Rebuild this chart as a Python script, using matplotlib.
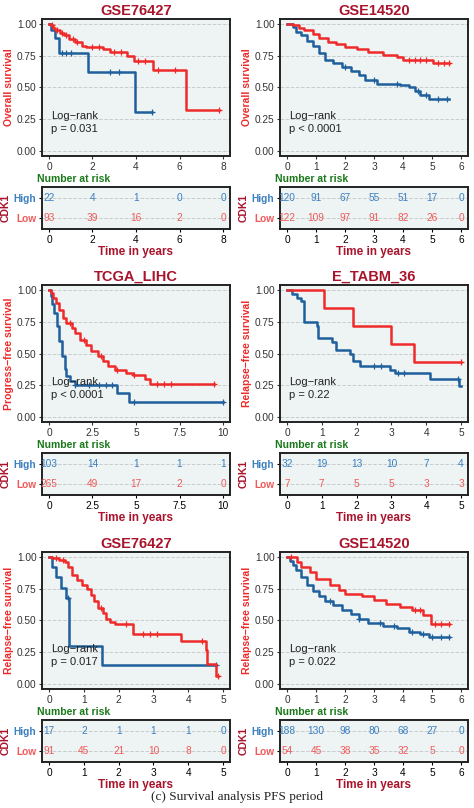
import numpy as np
import matplotlib.pyplot as plt

RED = "#ee2a2a"
BLUE = "#1f5f9c"
TRED = "#f05a5a"
TBLUE = "#3a7fc0"
TITLE = "#a8142c"
BG = "#eef4f4"

titles = ["GSE76427", "GSE14520", "TCGA_LIHC", "E_TABM_36", "GSE76427", "GSE14520"]
ylabels = ["Overall survival", "Overall survival", "Progress\u2212free survival",
           "Relapse\u2212free survival", "Relapse\u2212free survival", "Relapse\u2212free survival"]
pvals = ["p = 0.031", "p < 0.0001", "p < 0.0001", "p = 0.22", "p = 0.017", "p = 0.022"]
xticks = [[0, 2, 4, 6, 8], [0, 1, 2, 3, 4, 5, 6], [0, 2.5, 5, 7.5, 10],
          [0, 1, 2, 3, 4, 5], [0, 1, 2, 3, 4, 5], [0, 1, 2, 3, 4, 5, 6]]
xticklabels = [None, None, ["0", "2.5", "5", "7.5", "10"], None, None, None]

# step curves: (times, survival), last time = end of follow-up
high_t = [
    [0, 0.1, 0.3, 0.45, 1.8, 3.95, 4.75],
    [0, 0.2, 0.3, 0.5, 0.7, 0.9, 1.1, 1.3, 1.6, 1.9, 2.2, 2.5, 2.7, 3.1, 3.9, 4.2, 4.4, 4.6, 4.9, 5.6],
    [0, 0.1, 0.2, 0.3, 0.45, 0.6, 0.75, 0.9, 1.0, 1.2, 1.5, 3.9, 4.6, 10.0],
    [0, 0.15, 0.3, 0.4, 0.5, 0.85, 0.9, 1.3, 1.4, 1.8, 1.9, 2.1, 2.95, 3.1, 4.1, 4.95, 5.0],
    [0, 0.1, 0.2, 0.35, 0.5, 0.57, 1.52, 4.8],
    [0, 0.1, 0.2, 0.3, 0.5, 0.7, 0.9, 1.1, 1.3, 1.6, 1.9, 2.2, 2.5, 2.8, 3.3, 3.8, 4.2, 4.6, 4.9, 5.6],
]
high_s = [
    [1, 0.95, 0.89, 0.77, 0.62, 0.31, 0.31],
    [1, 0.98, 0.94, 0.91, 0.87, 0.83, 0.77, 0.72, 0.69, 0.66, 0.63, 0.60, 0.56, 0.53, 0.52, 0.50, 0.47, 0.44, 0.41, 0.41],
    [1, 0.95, 0.89, 0.82, 0.72, 0.60, 0.48, 0.38, 0.32, 0.28, 0.25, 0.19, 0.12, 0.12],
    [1, 0.97, 0.94, 0.91, 0.75, 0.72, 0.625, 0.59, 0.53, 0.50, 0.44, 0.40, 0.37, 0.35, 0.30, 0.24, 0.24],
    [1, 0.92, 0.84, 0.76, 0.68, 0.30, 0.15, 0.15],
    [1, 0.97, 0.94, 0.90, 0.84, 0.78, 0.73, 0.69, 0.65, 0.62, 0.58, 0.55, 0.51, 0.48, 0.46, 0.44, 0.41, 0.39, 0.37, 0.37],
]
low_t = [
    [0, 0.1, 0.2, 0.3, 0.5, 0.7, 0.9, 1.2, 1.5, 1.7, 2.5, 2.8, 3.6, 3.9, 4.8, 6.3, 7.8],
    [0, 0.2, 0.4, 0.6, 0.9, 1.1, 1.4, 1.7, 2.0, 2.4, 2.8, 3.3, 3.8, 4.0, 5.05, 5.6],
    [0, 0.1, 0.25, 0.4, 0.6, 0.8, 1.0, 1.3, 1.5, 1.8, 2.1, 2.4, 2.8, 3.1, 3.4, 3.8, 4.4, 4.8, 5.5, 5.8, 9.5],
    [0, 1.05, 1.9, 3.0, 3.65, 5.0],
    [0, 0.1, 0.3, 0.45, 0.55, 0.65, 0.8, 0.95, 1.1, 1.2, 1.3, 1.4, 1.55, 1.65, 1.75, 1.9, 2.4, 3.8, 4.5, 4.55, 4.8, 4.85],
    [0, 0.35, 0.5, 0.8, 1.0, 1.5, 1.8, 2.0, 2.6, 3.0, 3.4, 3.9, 4.3, 4.7, 4.95, 5.6],
]
low_s = [
    [1, 0.99, 0.97, 0.95, 0.93, 0.91, 0.88, 0.86, 0.83, 0.82, 0.80, 0.78, 0.75, 0.71, 0.64, 0.32, 0.32],
    [1, 0.99, 0.97, 0.95, 0.92, 0.89, 0.86, 0.84, 0.82, 0.80, 0.78, 0.76, 0.74, 0.72, 0.69, 0.69],
    [1, 0.98, 0.94, 0.90, 0.84, 0.78, 0.74, 0.70, 0.66, 0.61, 0.57, 0.52, 0.48, 0.44, 0.40, 0.37, 0.35, 0.33, 0.30, 0.26, 0.26],
    [1, 0.857, 0.714, 0.571, 0.43, 0.43],
    [1, 0.99, 0.98, 0.96, 0.92, 0.86, 0.82, 0.78, 0.75, 0.70, 0.65, 0.60, 0.56, 0.51, 0.49, 0.47, 0.39, 0.34, 0.27, 0.16, 0.06, 0.06],
    [1, 0.96, 0.92, 0.88, 0.83, 0.78, 0.74, 0.71, 0.69, 0.66, 0.63, 0.61, 0.58, 0.54, 0.47, 0.47],
]
high_cens = [[0.6, 0.8, 1.0, 2.8, 3.2, 4.75], [2.0, 3.0, 3.8, 4.5, 4.8, 5.2, 5.5], [1.5, 2.3, 2.9, 3.3, 3.6, 4.9, 10.0],
             [2.5, 2.7, 3.2, 3.35, 4.9], [0.55, 4.8], [1.5, 2.5, 3.2, 3.7, 4.3, 4.7, 5.0, 5.3, 5.6]]
low_cens = [[0.15, 0.35, 0.6, 0.8, 1.1, 1.3, 2.0, 2.3, 3.0, 3.3, 4.1, 4.4, 5.0, 5.8, 7.8],
            [4.2, 4.4, 4.6, 4.8, 5.2, 5.4, 5.6], [1.2, 2.0, 3.0, 3.9, 4.9, 6.2, 6.6, 7.0, 9.5],
            [5.0], [0.2, 0.4, 1.5, 2.2, 2.7, 2.9, 3.1, 4.4, 4.85], [0.15, 4.4, 4.6, 5.1, 5.3, 5.6]]
risk_high = [[22, 4, 1, 0, 0], [120, 91, 67, 55, 51, 17, 0], [103, 14, 1, 1, 1],
             [32, 19, 13, 10, 7, 4], [17, 2, 1, 1, 1, 0], [188, 130, 98, 80, 68, 27, 0]]
risk_low = [[93, 39, 16, 2, 0], [122, 109, 97, 91, 82, 26, 0], [265, 49, 17, 2, 0],
            [7, 7, 5, 5, 3, 3], [91, 45, 21, 10, 8, 0], [54, 45, 38, 35, 32, 5, 0]]

W, H = 474, 808
fig = plt.figure(figsize=(W / 100, H / 100), dpi=100)
plt.rcParams['font.family'] = ['Liberation Sans', 'DejaVu Sans']


def box(x0, y0, x1, y1):
    return [x0 / W, 1 - y1 / H, (x1 - x0) / W, (y1 - y0) / H]


def surv_at(t, s, x):
    idx = np.searchsorted(t, x, side='right') - 1
    return np.array(s)[idx]


col_x = [(42, 230), (280, 468)]
row_y = [0, 266, 533]

for i in range(6):
    r, c = divmod(i, 2)
    x0, x1 = col_x[c]
    oy = row_y[r]
    xmax = xticks[i][-1]
    pad = xmax * 0.04

    ax = fig.add_axes(box(x0, oy + 19, x1, oy + 156))
    ax.set_facecolor(BG)
    for t, s, cens, col in [(high_t[i], high_s[i], high_cens[i], BLUE), (low_t[i], low_s[i], low_cens[i], RED)]:
        ax.step(t, s, where='post', color=col, lw=1.8)
        ax.plot(cens, surv_at(t, s, cens), '+', color=col, ms=4, mew=0.9)
    ax.set_xlim(-pad, xmax + pad)
    ax.set_ylim(-0.04, 1.04)
    ax.set_yticks([0, 0.25, 0.5, 0.75, 1.0])
    ax.set_yticklabels(["0.00", "0.25", "0.50", "0.75", "1.00"])
    ax.set_xticks(xticks[i])
    if xticklabels[i]:
        ax.set_xticklabels(xticklabels[i])
    ax.grid(axis='y', ls='--', color='#c8cccc', lw=0.7)
    ax.tick_params(labelsize=7.3, length=2.5, pad=1.5, colors='#333333')
    for sp in ax.spines.values():
        sp.set_linewidth(1.4)
        sp.set_color('#222222')
    ax.set_title(titles[i], color=TITLE, fontsize=10.5, fontweight='bold', pad=3)
    ax.set_ylabel(ylabels[i], color=RED, fontsize=7.5, fontweight='bold', labelpad=2)
    ax.text(0.05, 0.33, "Log\u2212rank\n" + pvals[i], transform=ax.transAxes, fontsize=8,
            va='top', linespacing=1.4, color='#222222')

    fig.text((x0 - 5) / W, 1 - (oy + 179) / H, "Number at risk", color='#1a7a1a',
             fontsize=7.5, fontweight='bold', va='center')

    tb = fig.add_axes(box(x0, oy + 187, x1, oy + 229))
    tb.set_facecolor(BG)
    tb.set_xlim(-pad, xmax + pad)
    tb.set_ylim(-0.6, 1.6)
    tb.set_yticks([1, 0])
    tb.set_yticklabels(["High", "Low"])
    for lab, col in zip(tb.get_yticklabels(), [TBLUE, TRED]):
        lab.set_color(col)
        lab.set_fontweight('bold')
    tb.set_xticks(xticks[i])
    if xticklabels[i]:
        tb.set_xticklabels(xticklabels[i])
    tb.grid(axis='y', ls='--', color='#c8cccc', lw=0.7)
    tb.tick_params(labelsize=7.3, length=2.5, pad=1.5)
    for sp in tb.spines.values():
        sp.set_linewidth(1.4)
        sp.set_color('#222222')
    for x, n in zip(xticks[i], risk_high[i]):
        tb.text(x, 1, str(n), color=TBLUE, fontsize=7.3, ha='center', va='center')
    for x, n in zip(xticks[i], risk_low[i]):
        tb.text(x, 0, str(n), color=TRED, fontsize=7.3, ha='center', va='center')
    tb.set_ylabel("CDK1", color=TITLE, fontsize=7.5, fontweight='bold', labelpad=2)
    tb.set_xlabel("Time in years", color=TITLE, fontsize=8.5, fontweight='bold', labelpad=1)

fig.text(0.5, 1 - 797 / H, "(c) Survival analysis PFS period", ha='center', va='center',
         fontsize=9.5, family=['Liberation Serif', 'DejaVu Serif'], color='#222222')

fig.savefig("out.png", dpi=100)
